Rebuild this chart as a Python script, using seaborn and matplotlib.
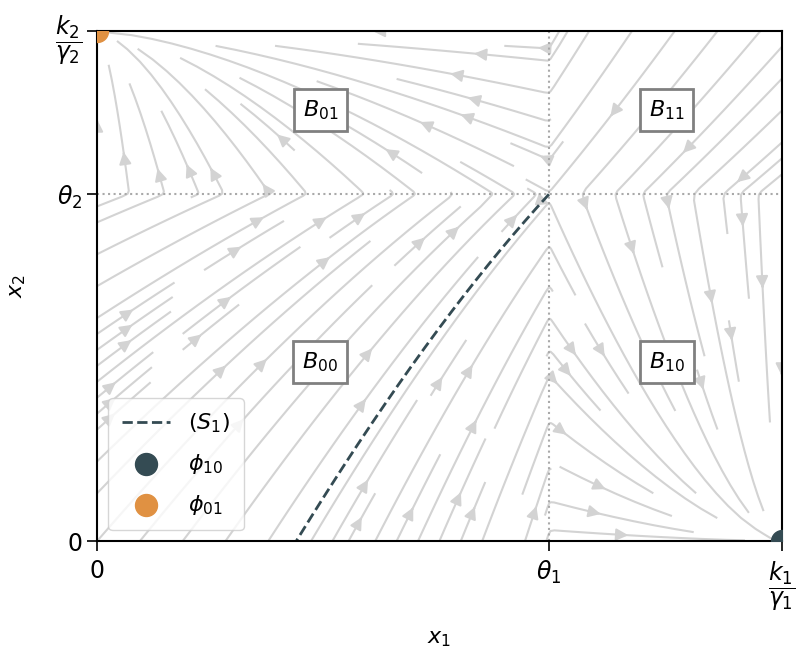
import numpy as np
import matplotlib.pyplot as plt
import seaborn as sns

sns.set_style("ticks")
plt.rcParams.update({"text.color": "black", "axes.labelcolor": "black",
                     "xtick.color": "black", "ytick.color": "black"})

# model parameters (toggle switch, piecewise linear)
k1, gamma1 = 1.0, 1.0
k2, gamma2 = 1.55, 1.55
theta1, theta2 = 0.66, 0.68

x1max = k1 / gamma1
x2max = k2 / gamma2

region_labels = ["$B_{00}$", "$B_{01}$", "$B_{10}$", "$B_{11}$"]
region_pos = [(0.326, 0.351), (0.326, 0.845), (0.832, 0.351), (0.832, 0.845)]

xtick_pos = [0, theta1, x1max]
xtick_labels = ["$0$", r"$\theta_1$", r"$\dfrac{k_1}{\gamma_1}$"]
ytick_pos = [0, theta2, x2max]
ytick_labels = ["$0$", r"$\theta_2$", r"$\dfrac{k_2}{\gamma_2}$"]

col_phi10 = "#344b53"
col_phi01 = "#e09142"
col_stream = "#d3d3d3"

x1 = np.linspace(0, x1max, 200)
x2 = np.linspace(0, x2max, 200)
X1, X2 = np.meshgrid(x1, x2)
U = k1 * (X2 < theta2) - gamma1 * X1
V = k2 * (X1 < theta1) - gamma2 * X2

fig = plt.figure(figsize=(7.96, 6.48), dpi=100)
ax = fig.add_axes([0.122, 0.165, 0.86, 0.787])

ax.streamplot(X1, X2, U, V, color=col_stream, density=1.1, linewidth=1.5, arrowsize=1.8)

ax.axvline(theta1, color="darkgray", ls=":", lw=1.5)
ax.axhline(theta2, color="darkgray", ls=":", lw=1.5)

# separatrix S1 through (theta1, theta2)
r = gamma2 / gamma1
sx = np.linspace(theta1, 0.0, 300)
sy = x2max - (x2max - theta2) * ((x1max - sx) / (x1max - theta1)) ** r
keep = sy >= 0
ax.plot(sx[keep], sy[keep], ls="--", color=col_phi10, lw=2, label="$(S_1)$")

ax.scatter([x1max], [0], s=250, color=col_phi10, zorder=5, label=r"$\phi_{10}$")
ax.scatter([0], [x2max], s=250, color=col_phi01, zorder=5, label=r"$\phi_{01}$")

for lab, (px, py) in zip(region_labels, region_pos):
    ax.text(px * x1max, py * x2max, lab, fontsize=16, ha="center", va="center",
            bbox=dict(boxstyle="square,pad=0.4", fc="white", ec="gray", lw=2))

ax.set_xlim(0, x1max)
ax.set_ylim(0, x2max)
ax.set_xticks(xtick_pos)
ax.set_xticklabels(xtick_labels, fontsize=17)
ax.set_yticks(ytick_pos)
ax.set_yticklabels(ytick_labels, fontsize=17)
ax.tick_params(length=7, width=1.2)
ax.tick_params(axis="x", pad=6)
for s in ax.spines.values():
    s.set_color("black")
    s.set_linewidth(1.5)
ax.set_xlabel("$x_1$", fontsize=16, labelpad=12)
ax.set_ylabel("$x_2$", fontsize=16, labelpad=20)

ax.legend(loc="lower left", fontsize=16, borderpad=0.6, handlelength=2.2,
          labelspacing=0.75)

fig.savefig("out.png", dpi=100)
